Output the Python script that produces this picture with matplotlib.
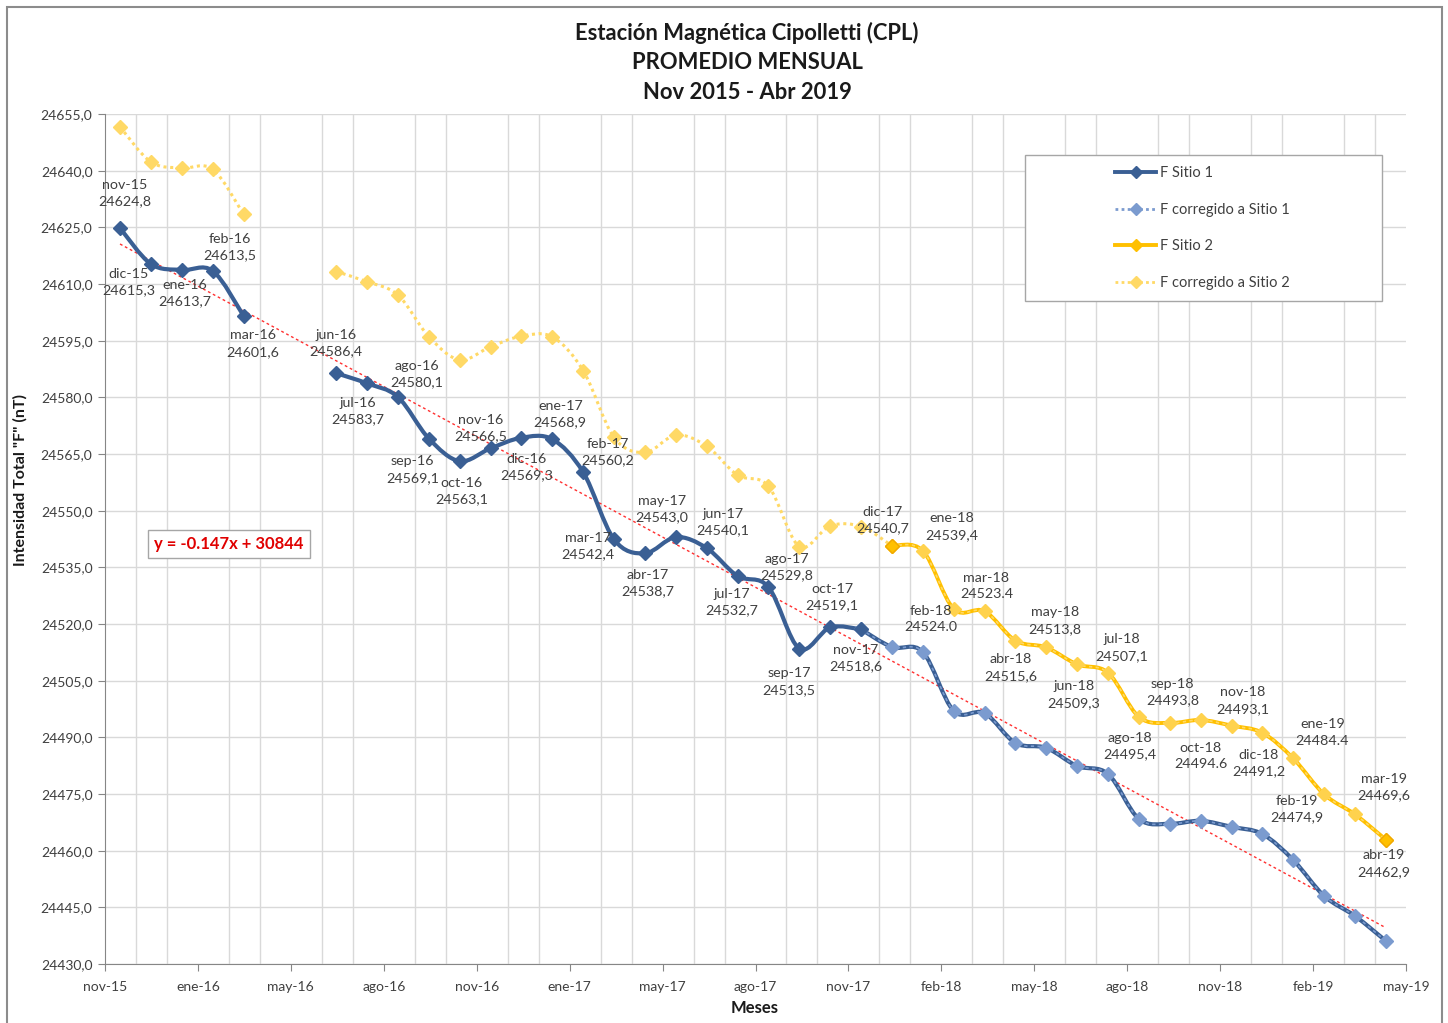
import numpy as np
import matplotlib.pyplot as plt
from matplotlib.path import Path
from matplotlib.patches import PathPatch, Rectangle
from matplotlib.lines import Line2D

plt.rcParams['font.family'] = ['Lato', 'DejaVu Sans']

# ---- data ----
months = ['nov-15', 'dic-15', 'ene-16', 'feb-16', 'mar-16', 'abr-16', 'may-16', 'jun-16',
          'jul-16', 'ago-16', 'sep-16', 'oct-16', 'nov-16', 'dic-16', 'ene-17', 'feb-17',
          'mar-17', 'abr-17', 'may-17', 'jun-17', 'jul-17', 'ago-17', 'sep-17', 'oct-17',
          'nov-17', 'dic-17', 'ene-18', 'feb-18', 'mar-18', 'abr-18', 'may-18', 'jun-18',
          'jul-18', 'ago-18', 'sep-18', 'oct-18', 'nov-18', 'dic-18', 'ene-19', 'feb-19',
          'mar-19', 'abr-19']
nan = np.nan

# F Sitio 1 (measured, nov-15 .. nov-17)
f_sitio1 = [24624.8, 24615.3, 24613.7, 24613.5, 24601.6, nan, nan, 24586.4,
            24583.7, 24580.1, 24569.1, 24563.1, 24566.5, 24569.3, 24568.9, 24560.2,
            24542.4, 24538.7, 24543.0, 24540.1, 24532.7, 24529.8, 24513.5, 24519.1,
            24518.6] + [nan] * 17

# F corregido a Sitio 1 (nov-17 .. abr-19)
f_corr1 = [nan] * 24 + [24518.6, 24513.9, 24512.6, 24497.0, 24496.4, 24488.5, 24487.2,
                        24482.4, 24480.3, 24468.4, 24467.1, 24467.9, 24466.3, 24464.4,
                        24457.5, 24448.0, 24442.7, 24436.1]

# F Sitio 2 (dic-17 .. abr-19)
f_sitio2 = [nan] * 25 + [24540.7, 24539.4, 24524.0, 24523.4, 24515.6, 24513.8, 24509.3,
                         24507.1, 24495.4, 24493.8, 24494.6, 24493.1, 24491.2, 24484.4,
                         24474.9, 24469.6, 24462.9]

# F corregido a Sitio 2 (nov-15 .. dic-17)
f_corr2 = [24651.6, 24642.3, 24640.7, 24640.4, 24628.5, nan, nan, 24613.3,
           24610.6, 24607.1, 24596.1, 24589.9, 24593.4, 24596.2, 24596.0, 24587.1,
           24569.4, 24565.4, 24570.0, 24567.1, 24559.4, 24556.5, 24540.5, 24546.0,
           24545.8, 24540.7] + [nan] * 16

# labels written with a decimal point instead of comma in the original
dot_labels = ['feb-18', 'mar-18', 'oct-18', 'ene-19']

xtick_labels = ['nov-15', 'ene-16', 'may-16', 'ago-16', 'nov-16', 'ene-17', 'may-17',
                'ago-17', 'nov-17', 'feb-18', 'may-18', 'ago-18', 'nov-18', 'feb-19', 'may-19']

# ---- label offsets (pixels, text centre relative to point) ----
off1 = {0: (5, 35), 1: (-22, -18), 2: (3, -23), 3: (17, 24), 4: (9, -28),
        7: (0, 30), 8: (-9, -28), 9: (19, 23), 10: (-16, -31), 11: (2, -30),
        12: (-10, 20), 13: (5, -29), 14: (8, 25), 15: (25, 20), 16: (-26, -7),
        17: (3, -30), 18: (-14, 28), 19: (16, 26), 20: (-6, -26), 21: (18, 20),
        22: (-10, -33), 23: (2, 30), 24: (-5, -29)}
off2 = {25: (-9, 26), 26: (29, 24), 27: (-23, -10), 28: (2, 25), 29: (-5, -27),
        30: (9, 27), 31: (-3, -30), 32: (14, 25), 33: (-9, -29), 34: (3, 31),
        35: (0, -36), 36: (11, 25), 37: (-4, -30), 38: (29, 26), 39: (-27, -15),
        40: (29, 27), 41: (-2, -24)}

x = np.arange(len(months), dtype=float)
s1 = np.array(f_sitio1)
c1 = np.array(f_corr1)
s2 = np.array(f_sitio2)
c2 = np.array(f_corr2)

DARK = '#3A5F94'
LIGHTB = '#7B9BCF'
GOLD = '#FFC000'
LIGHTY = '#FFD966'


def smooth_path(xv, yv):
    # Excel-like smoothed line as cubic bezier segments through the points
    verts, codes = [], []
    idx = np.where(~np.isnan(yv))[0]
    runs = np.split(idx, np.where(np.diff(idx) > 1)[0] + 1)
    for r in runs:
        px, py = xv[r], yv[r]
        n = len(px)
        verts.append((px[0], py[0]))
        codes.append(Path.MOVETO)
        for i in range(n - 1):
            a = max(i - 1, 0)
            b = min(i + 2, n - 1)
            verts.append((px[i] + (px[i + 1] - px[a]) / 6, py[i] + (py[i + 1] - py[a]) / 6))
            verts.append((px[i + 1] - (px[b] - px[i]) / 6, py[i + 1] - (py[b] - py[i]) / 6))
            verts.append((px[i + 1], py[i + 1]))
            codes += [Path.CURVE4] * 3
    return Path(verts, codes)


fig = plt.figure(figsize=(14.48, 10.23), dpi=100)
ax = fig.add_axes([105 / 1448, 1 - 964 / 1023, 1301 / 1448, 850 / 1023])

# outer chart frame
fig.patches.append(Rectangle((7 / 1448, -0.05), 1435 / 1448, 1.05 - 7 / 1023,
                             transform=fig.transFigure, fill=False,
                             edgecolor='#8C8C8C', linewidth=1.5))

xmin, xmax = -0.486, 41.65
major = np.linspace(xmin, xmax, 15)
minor = np.linspace(xmin, xmax, 43)
ax.set_xlim(xmin, xmax)
ax.set_ylim(24430, 24655)
ax.set_xticks(major)
ax.set_xticklabels(xtick_labels)
ax.set_xticks(minor, minor=True)
yt = np.arange(24430, 24656, 15)
ax.set_yticks(yt)
ax.set_yticklabels([f'{v:.1f}'.replace('.', ',') for v in yt])
ax.tick_params(axis='both', which='major', length=5, color='#868686',
               labelsize=10, labelcolor='#404040', pad=4)
ax.tick_params(axis='x', which='major', pad=7)
ax.tick_params(axis='x', which='minor', length=0)
ax.grid(True, axis='y', which='major', color='#D9D9D9', linewidth=1)
ax.grid(True, axis='x', which='minor', color='#D9D9D9', linewidth=1)
ax.grid(False, axis='x', which='major')
for sp in ['top', 'right']:
    ax.spines[sp].set_visible(False)
for sp in ['left', 'bottom']:
    ax.spines[sp].set_color('#868686')
ax.set_axisbelow(True)

# trend line fitted on the Sitio 1 series
blue = np.where(np.isnan(s1), c1, s1)
ok = ~np.isnan(blue)
m, b = np.polyfit(x[ok], blue[ok], 1)
ax.plot([x[0], x[-1]], [m * x[0] + b, m * x[-1] + b], color='#FF3030',
        linestyle=(0, (2, 2)), linewidth=1, zorder=2)

# corrected Sitio 2 (light yellow dotted)
ax.add_patch(PathPatch(smooth_path(x, c2), fill=False, edgecolor=LIGHTY,
                       linewidth=2.2, linestyle=(0, (1, 1.2)), zorder=3))
ax.plot(x, c2, linestyle='none', marker='D', markersize=7, color=LIGHTY, zorder=4)

# F Sitio 2 (gold)
ax.add_patch(PathPatch(smooth_path(x, s2), fill=False, edgecolor=GOLD,
                       linewidth=2.8, zorder=3))
ax.add_patch(PathPatch(smooth_path(x, s2), fill=False, edgecolor=LIGHTY,
                       linewidth=1.2, linestyle=(0, (2, 2)), zorder=3))
ax.plot(x, s2, linestyle='none', marker='D', markersize=7.5, color='#FFD24D', zorder=4)
ax.plot(x[[25, 41]], s2[[25, 41]], linestyle='none', marker='D', markersize=7.5,
        markerfacecolor=GOLD, markeredgecolor='#F0A800', zorder=5)

# corrected Sitio 1 (dark underlay + light dotted)
ax.add_patch(PathPatch(smooth_path(x, c1), fill=False, edgecolor=DARK,
                       linewidth=3, zorder=3))
ax.add_patch(PathPatch(smooth_path(x, c1), fill=False, edgecolor=LIGHTB,
                       linewidth=1.2, linestyle=(0, (2, 2)), zorder=3))
ax.plot(x, c1, linestyle='none', marker='D', markersize=7.5, color=LIGHTB, zorder=4)

# F Sitio 1 (dark blue)
ax.add_patch(PathPatch(smooth_path(x, s1), fill=False, edgecolor=DARK,
                       linewidth=3, zorder=3))
ax.plot(x, s1, linestyle='none', marker='D', markersize=7.5, color=DARK, zorder=5)


def fmt(i, v):
    s = f'{v:.1f}'
    if months[i] not in dot_labels:
        s = s.replace('.', ',')
    return months[i] + '\n' + s


for series, offs in [(s1, off1), (s2, off2)]:
    for i, (dx, dy) in offs.items():
        ax.annotate(fmt(i, series[i]), (x[i], series[i]), xytext=(dx, dy),
                    textcoords='offset pixels', ha='center', va='center',
                    fontsize=10.3, color='#404040', linespacing=1.45, zorder=6)

# titles and axis labels
fig.text(747 / 1448, 1 - 62 / 1023,
         'Estación Magnética Cipolletti (CPL)\nPROMEDIO MENSUAL\nNov 2015 - Abr 2019',
         ha='center', va='center', fontsize=15.8, fontweight='bold', color='#1A1A1A',
         linespacing=1.5)
fig.text(20 / 1448, 1 - 480 / 1023, 'Intensidad Total "F" (nT)', rotation=90,
         ha='center', va='center', fontsize=11.5, fontweight='bold', color='#1A1A1A')
fig.text(755 / 1448, 1 - 1008 / 1023, 'Meses', ha='center', va='center',
         fontsize=12, fontweight='bold', color='#1A1A1A')

# trend equation box
fig.text(229 / 1448, 1 - 544 / 1023, 'y = -0.147x + 30844', ha='center', va='center',
         fontsize=12, fontweight='bold', color='#E00000',
         bbox=dict(boxstyle='square,pad=0.35', facecolor='white', edgecolor='#A6A6A6'))

# legend
fig.patches.append(Rectangle((1025 / 1448, 1 - 301 / 1023), 357 / 1448, 146 / 1023,
                             transform=fig.transFigure, facecolor='white',
                             edgecolor='#A6A6A6', linewidth=1, zorder=10))
handles = [
    Line2D([], [], color=DARK, linewidth=2.8, marker='D', markersize=6),
    Line2D([], [], color=LIGHTB, linewidth=2, linestyle=(0, (1, 1.2)), marker='D', markersize=6),
    Line2D([], [], color=GOLD, linewidth=2.8, marker='D', markersize=6),
    Line2D([], [], color=LIGHTY, linewidth=2, linestyle=(0, (1, 1.2)), marker='D', markersize=6),
]
names = ['F Sitio 1', 'F corregido a Sitio 1', 'F Sitio 2', 'F corregido a Sitio 2']
leg = fig.legend(handles, names, loc='center left',
                 bbox_to_anchor=(1108 / 1448, 1 - 228 / 1023), frameon=False,
                 fontsize=10.5, handlelength=2.8, handletextpad=0.3,
                 labelspacing=1.55, borderpad=0)
leg.set_zorder(11)
for t in leg.get_texts():
    t.set_color('#404040')

fig.savefig('out.png', dpi=100)
